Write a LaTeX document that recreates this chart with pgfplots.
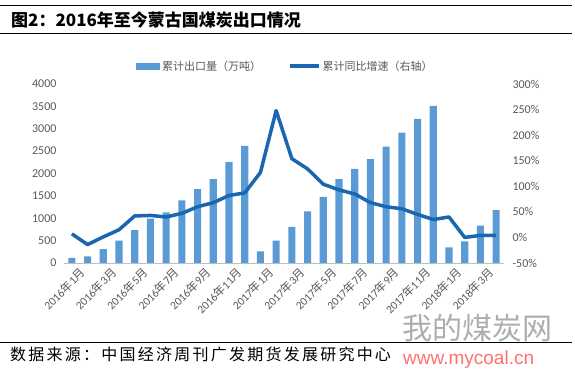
\documentclass[border=0pt]{standalone}
\usepackage{fontspec}
\usepackage{pgfplots}
\usepackage{pgfplotstable}
\pgfplotsset{compat=1.18}
\setmainfont{Carlito}
\newfontfamily\cjk{Noto Sans CJK SC}
\newfontfamily\cjkls[LetterSpace=14]{Noto Sans CJK SC}
\newfontfamily\wm{Liberation Sans}
\definecolor{barblue}{HTML}{5B9BD5}
\definecolor{lineblue}{HTML}{1A66B0}
\definecolor{ticktext}{HTML}{595959}
\definecolor{axgray}{HTML}{BFBFBF}
\pgfplotsset{/pgf/number format/assume math mode=true, /pgf/number format/1000 sep={}}

\pgfplotstableread{
x y
0 112
1 149
2 312
3 498
4 736
5 989
6 1130
7 1398
8 1650
9 1874
10 2253
11 2617
12 260
13 498
14 810
15 1152
16 1480
17 1874
18 2104
19 2320
20 2602
21 2914
22 3219
23 3509
24 349
25 483
26 833
27 1182
}\exportdata

\pgfplotstableread{
x g
0 7
1 -14
2 1
3 15
4 42
5 43
6 40
7 47
8 60
9 68
10 82
11 87
12 127
13 248
14 154
15 134
16 104
17 93
18 85
19 68
20 60
21 56
22 45
23 35
24 40
25 0
26 4
27 4
}\growthdata

\begin{document}
\begin{tikzpicture}
\path[use as bounding box] (0,0) rectangle (575bp,372bp);
\draw[black, line width=1bp] (0,366.5bp) -- (572bp,366.5bp);
\draw[black, line width=1bp] (0,338bp) -- (572bp,338bp);
\draw[black, line width=1bp] (0,29bp) -- (572bp,29bp);
\node[anchor=west, inner sep=0pt, font=\cjk\bfseries\fontsize{17bp}{20bp}\selectfont] at (11bp,352bp) {图2：2016年至今蒙古国煤炭出口情况};
\node[anchor=west, inner sep=0pt, font=\cjkls\fontsize{16bp}{19bp}\selectfont] at (10bp,18bp) {数据来源：中国经济周刊广发期货发展研究中心};
% watermark
\node[anchor=west, inner sep=0pt, text=gray!80, opacity=0.8, font=\cjk\fontsize{30bp}{34bp}\selectfont] at (402bp,44bp) {我的煤炭网};
\node[anchor=west, inner sep=0pt, text=red!60!pink, opacity=0.8, font=\wm\fontsize{19bp}{22bp}\selectfont] at (403bp,12bp) {www.mycoal.cn};

\begin{axis}[
  at={(64bp,109bp)}, anchor=south west,
  scale only axis, width=440bp, height=179bp,
  xmin=-0.5, xmax=27.5, ymin=0, ymax=4000,
  axis x line*=bottom, axis y line*=left,
  x axis line style={draw=axgray, line width=0.8bp},
  y axis line style={draw=none},
  ytick={0,500,...,4000},
  ytick style={draw=none},
  xtick={0,2,...,26},
  xticklabels={2016{\cjk 年}1{\cjk 月},2016{\cjk 年}3{\cjk 月},2016{\cjk 年}5{\cjk 月},2016{\cjk 年}7{\cjk 月},2016{\cjk 年}9{\cjk 月},2016{\cjk 年}11{\cjk 月},2017{\cjk 年}1{\cjk 月},2017{\cjk 年}3{\cjk 月},2017{\cjk 年}5{\cjk 月},2017{\cjk 年}7{\cjk 月},2017{\cjk 年}9{\cjk 月},2017{\cjk 年}11{\cjk 月},2018{\cjk 年}1{\cjk 月},2018{\cjk 年}3{\cjk 月}},
  major x tick style={draw=none},
  extra x ticks={-0.5,1.5,...,27.5},
  extra x tick labels={},
  extra x tick style={major tick length=4bp, tick align=outside, tick style={draw=axgray, line width=0.8bp}},
  xticklabel style={rotate=45, anchor=north east, inner sep=0.5bp, yshift=-7bp, xshift=3bp, font=\fontsize{11.5bp}{13bp}\selectfont, text=ticktext},
  yticklabel style={font=\fontsize{12bp}{14bp}\selectfont, text=ticktext, xshift=-4bp},
  legend columns=2,
  legend style={at={(0.503,1.10)}, anchor=center, draw=none, fill=none,
    font=\cjk\fontsize{11bp}{13bp}\selectfont, text=ticktext,
    /tikz/every even column/.append style={column sep=25bp},
    nodes={inner xsep=2bp}},
  legend cell align=left,
]
\addplot[ybar, bar width=7.1bp, fill=barblue, draw=none,
  legend image code/.code={\fill[barblue] (0bp,-3.5bp) rectangle (24bp,3.5bp);}]
  table[x=x,y=y]{\exportdata};
\addlegendentry{累计出口量（万吨）}
\addlegendimage{legend image code/.code={\draw[lineblue,line width=3.5bp] (0bp,0bp) -- (29bp,0bp);}}
\addlegendentry{累计同比增速（右轴）}
\end{axis}

\begin{axis}[
  at={(64bp,109bp)}, anchor=south west,
  scale only axis, width=440bp, height=179bp,
  xmin=-0.5, xmax=27.5, ymin=-50, ymax=300,
  axis x line=none, axis y line*=right,
  y axis line style={draw=none},
  ytick={-50,0,...,300},
  ytick style={draw=none},
  yticklabel={\pgfmathprintnumber{\tick}\%},
  yticklabel style={font=\fontsize{12bp}{14bp}\selectfont, text=ticktext, xshift=5bp},
]
\addplot[lineblue, line width=3.5bp, line join=round] table[x=x,y=g]{\growthdata};
\end{axis}
\end{tikzpicture}
\end{document}
